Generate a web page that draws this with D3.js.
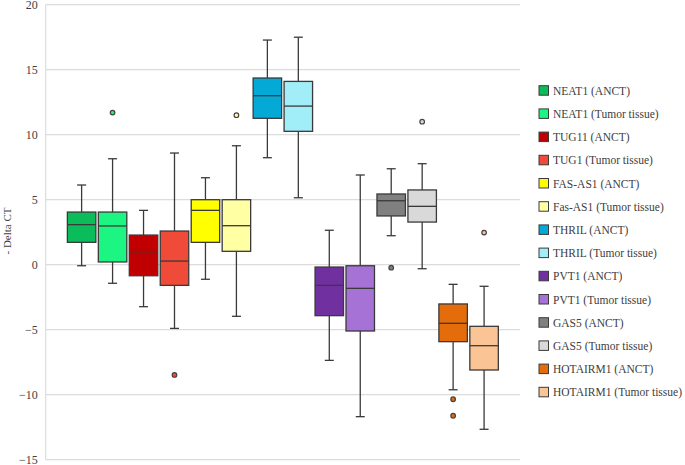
<!DOCTYPE html>
<html>
<head>
<meta charset="utf-8">
<script src="https://cdn.jsdelivr.net/npm/d3@7"></script>
<style>
  body { margin: 0; background: #fff; }
  svg text { font-family: "Liberation Serif", "Times New Roman", serif; fill: #404040; }
</style>
</head>
<body>
<script>
// box plot of - Delta CT per lncRNA, ANCT vs tumor tissue

var width = 685,
    height = 465;

var series = ["NEAT1 (ANCT)", "NEAT1 (Tumor tissue)", "TUG11 (ANCT)", "TUG1 (Tumor tissue)",
              "FAS-AS1 (ANCT)", "Fas-AS1 (Tumor tissue)", "THRIL (ANCT)", "THRIL (Tumor tissue)",
              "PVT1 (ANCT)", "PVT1 (Tumor tissue)", "GAS5 (ANCT)", "GAS5 (Tumor tissue)",
              "HOTAIRM1 (ANCT)", "HOTAIRM1 (Tumor tissue)"];

var colors = ["#0bbc5a", "#1cf581", "#c00000", "#f04b38",
              "#ffff00", "#ffffa3", "#05a9d6", "#a2eef8",
              "#7030a0", "#a772d6", "#808080", "#d9d9d9",
              "#e46c0a", "#fbc494"];

// five-number summaries
var whiskerLow  = [-0.08, -1.43, -3.23, -4.90, -1.12, -3.97,  8.23,  5.15, -7.36, -11.69,  2.23, -0.31, -9.62, -12.66];
var q1          = [ 1.72,  0.21, -0.85, -1.59,  1.72,  1.03, 11.26, 10.26, -3.92,  -5.10,  3.75,  3.28, -5.92,  -8.10];
var median      = [ 3.08,  2.98,  0.88,  0.28,  4.18,  3.00, 13.00, 12.20, -1.59,  -1.82,  4.92,  4.49, -4.51,  -6.23];
var q3          = [ 4.05,  4.05,  2.28,  2.59,  5.00,  5.00, 14.36, 14.10, -0.18,  -0.08,  5.44,  5.75, -3.02,  -4.74];
var whiskerHigh = [ 6.13,  8.15,  4.18,  8.59,  6.69,  9.15, 17.28, 17.50,  2.65,   6.90,  7.38,  7.77, -1.51,  -1.66];

// outliers as [series index, value]
var outliers = [[1, 11.7], [3, -8.48], [5, 11.5], [10, -0.23], [11, 11.0], [12, -10.35], [12, -11.62], [13, 2.47]];

var yTicks = [-15, -10, -5, 0, 5, 10, 15, 20];

var plotLeft = 45.7, plotRight = 520, plotTop = 4.7, plotBottom = 459.7;

var svg = d3.select("body").append("svg")
    .attr("width", width)
    .attr("height", height);

var xScale = d3.scaleBand()
    .domain(series)
    .range([plotLeft, plotRight])
    .paddingInner(0.08)
    .paddingOuter(0.7);

var yScale = d3.scaleLinear()
    .domain([-15, 20])
    .range([plotBottom, plotTop]);

// gridlines
svg.append("g").selectAll("line").data(yTicks).enter().append("line")
    .attr("x1", plotLeft).attr("x2", plotRight)
    .attr("y1", function(d){ return yScale(d); })
    .attr("y2", function(d){ return yScale(d); })
    .attr("stroke", "#dcdcdc")
    .attr("stroke-width", 1.2);

svg.append("line")
    .attr("x1", plotLeft).attr("x2", plotLeft)
    .attr("y1", plotTop).attr("y2", plotBottom)
    .attr("stroke", "#dcdcdc")
    .attr("stroke-width", 1.2);

// y axis labels
var yAxis = d3.axisLeft(yScale).tickValues(yTicks).tickSize(0).tickPadding(8);
var gy = svg.append("g")
    .attr("transform", "translate(" + plotLeft + ",0)")
    .call(yAxis)
    .attr("font-family", "'Liberation Serif', serif")
    .attr("font-size", 12);
gy.select(".domain").remove();
gy.selectAll("text")
    .style("font-family", "'Liberation Serif', serif")
    .attr("fill", "#404040");

svg.append("text")
    .attr("transform", "translate(11," + 231 + ") rotate(-90)")
    .style("text-anchor", "middle")
    .style("font-size", "11px")
    .text("- Delta CT");

// boxes
var bw = xScale.bandwidth();
var boxes = svg.append("g").selectAll("g").data(series).enter().append("g");

boxes.append("line")
    .attr("x1", function(d){ return xScale(d) + bw / 2; })
    .attr("x2", function(d){ return xScale(d) + bw / 2; })
    .attr("y1", function(d, i){ return yScale(whiskerHigh[i]); })
    .attr("y2", function(d, i){ return yScale(whiskerLow[i]); })
    .attr("stroke", "#3a3a3a").attr("stroke-width", 1.3);

[whiskerHigh, whiskerLow].forEach(function(arr) {
  boxes.append("line")
      .attr("x1", function(d){ return xScale(d) + bw / 2 - 4.5; })
      .attr("x2", function(d){ return xScale(d) + bw / 2 + 4.5; })
      .attr("y1", function(d, i){ return yScale(arr[i]); })
      .attr("y2", function(d, i){ return yScale(arr[i]); })
      .attr("stroke", "#3a3a3a").attr("stroke-width", 1.3);
});

boxes.append("rect")
    .attr("x", function(d){ return xScale(d); })
    .attr("width", bw)
    .attr("y", function(d, i){ return yScale(q3[i]); })
    .attr("height", function(d, i){ return yScale(q1[i]) - yScale(q3[i]); })
    .attr("fill", function(d, i){ return colors[i]; })
    .attr("stroke", "#3a3a3a").attr("stroke-width", 1.3);

boxes.append("line")
    .attr("x1", function(d){ return xScale(d); })
    .attr("x2", function(d){ return xScale(d) + bw; })
    .attr("y1", function(d, i){ return yScale(median[i]); })
    .attr("y2", function(d, i){ return yScale(median[i]); })
    .attr("stroke", "#3a3a3a").attr("stroke-width", 1.3);

// outliers
svg.append("g").selectAll("circle").data(outliers).enter().append("circle")
    .attr("cx", function(d){ return xScale(series[d[0]]) + bw / 2; })
    .attr("cy", function(d){ return yScale(d[1]); })
    .attr("r", 2.3)
    .attr("fill", function(d){ return colors[d[0]]; })
    .attr("stroke", "#4a4040").attr("stroke-width", 1.2);

// legend
var legend = svg.append("g").selectAll("g").data(series).enter().append("g")
    .attr("transform", function(d, i){ return "translate(539," + (90.7 + i * 23.2) + ")"; });

legend.append("rect")
    .attr("x", 0).attr("y", -5)
    .attr("width", 9.5).attr("height", 9.5)
    .attr("fill", function(d, i){ return colors[i]; })
    .attr("stroke", "#3a3a3a").attr("stroke-width", 1);

legend.append("text")
    .attr("x", 14).attr("y", 4)
    .style("font-size", "11.5px")
    .attr("fill", "#222")
    .text(function(d){ return d; });
</script>
</body>
</html>
